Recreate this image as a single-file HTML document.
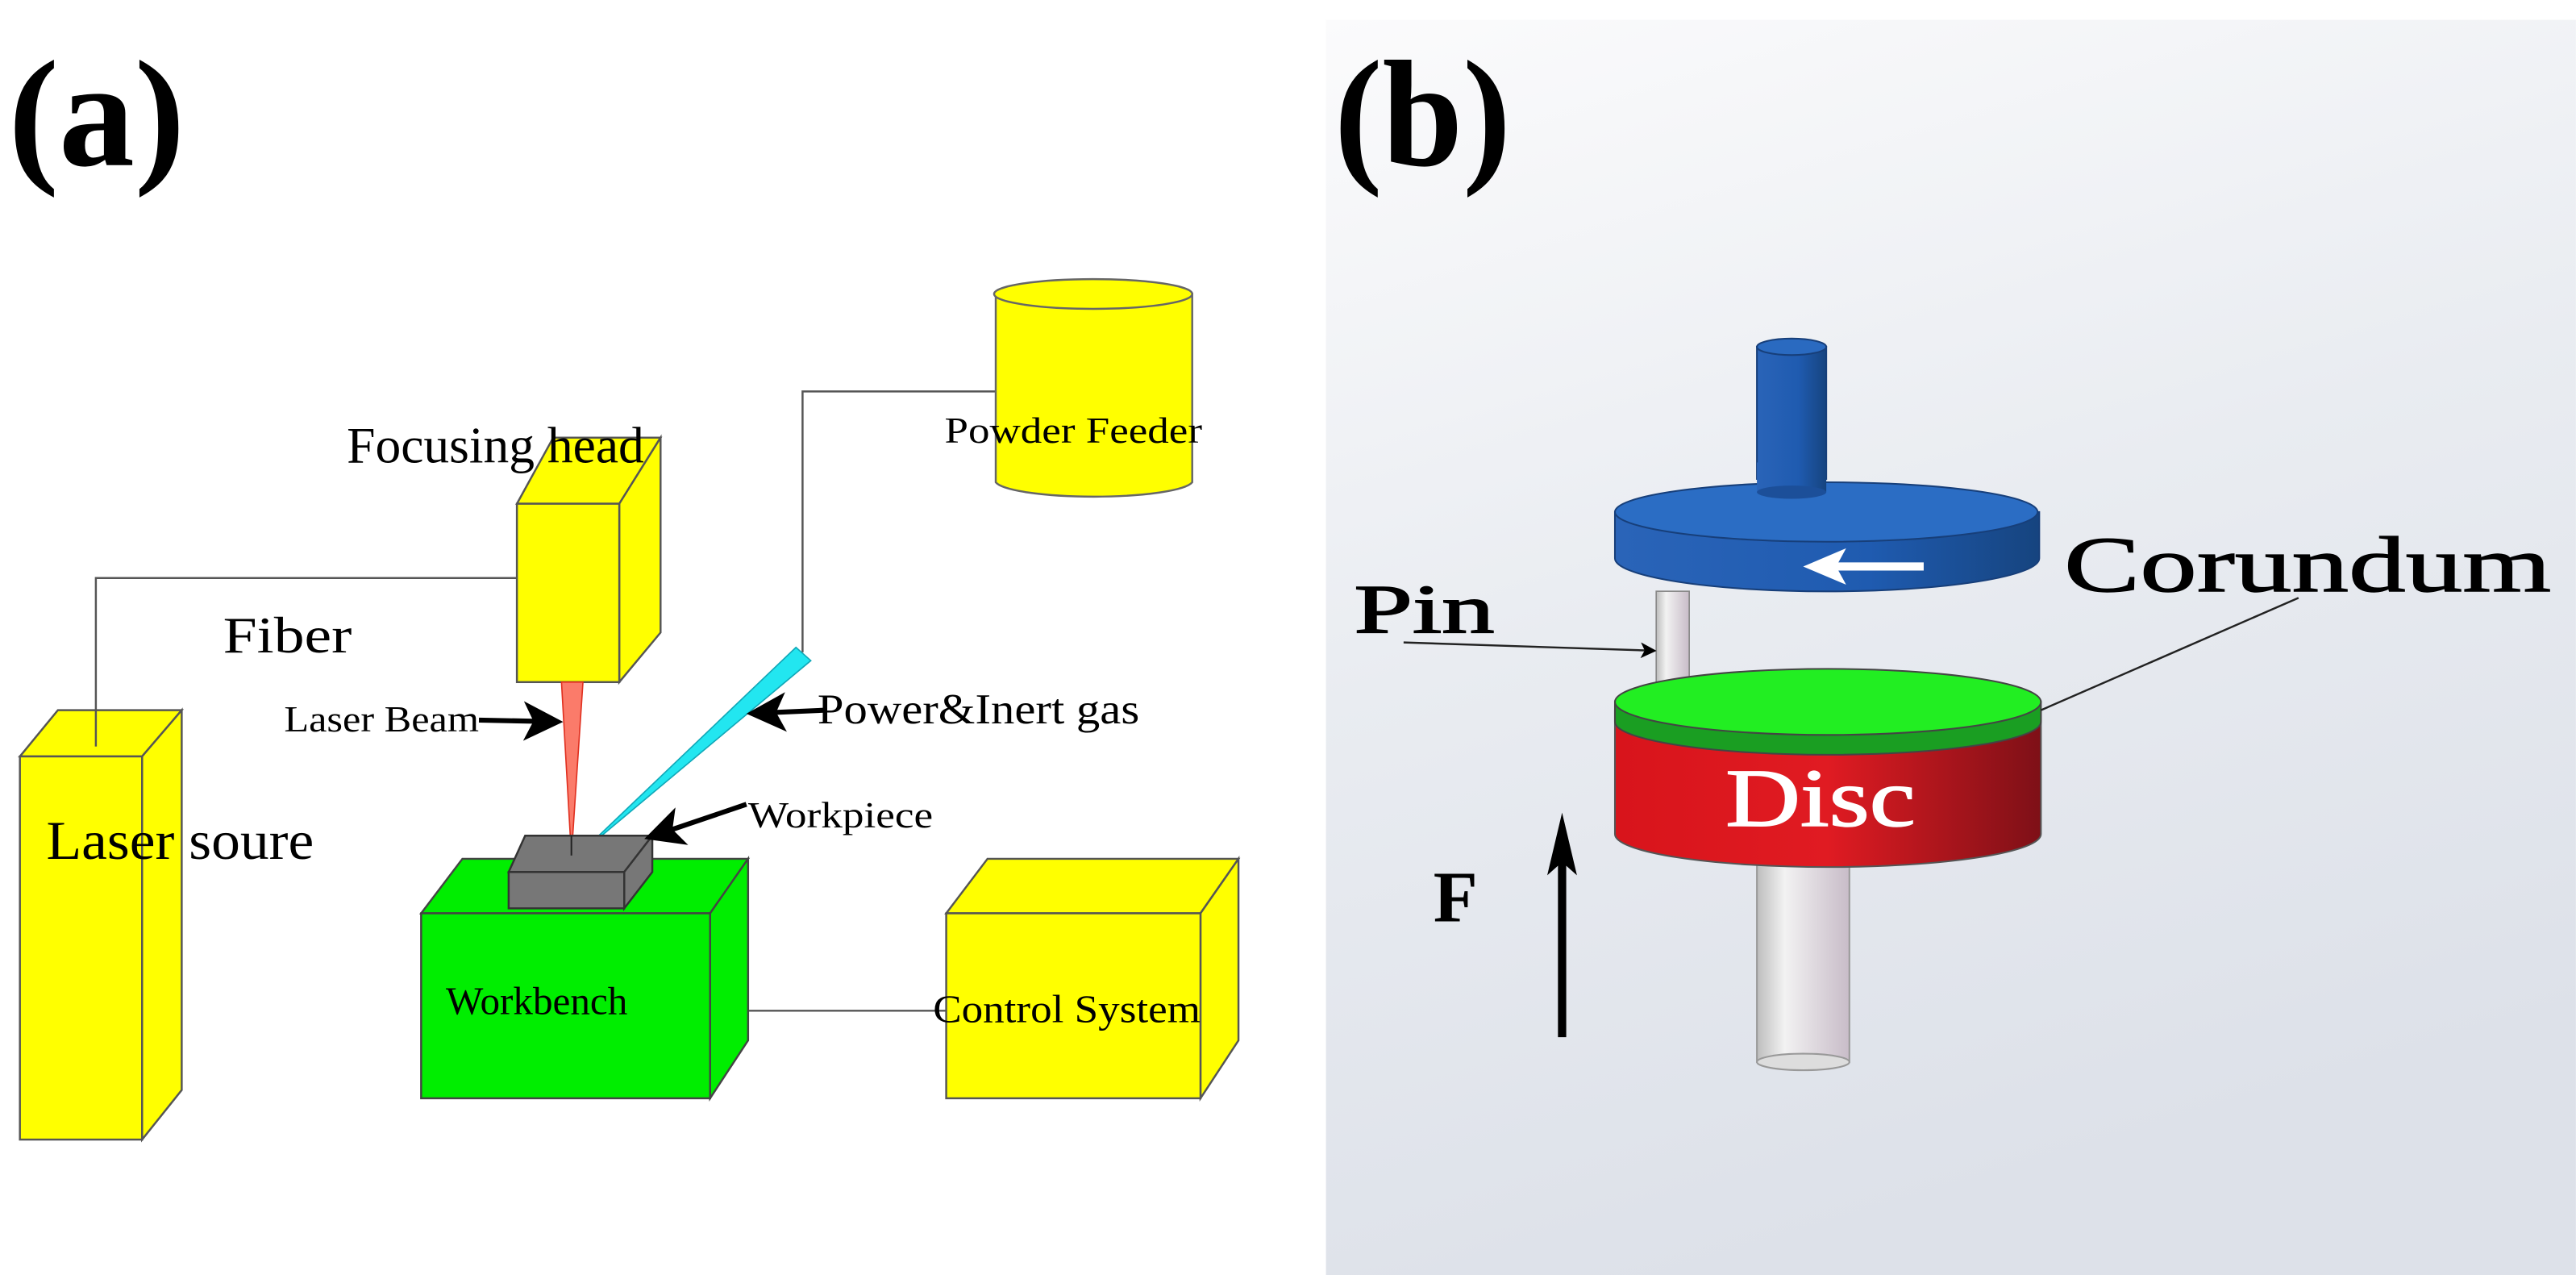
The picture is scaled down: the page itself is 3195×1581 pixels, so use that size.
<!DOCTYPE html>
<html><head><meta charset="utf-8"><style>
html,body{margin:0;padding:0;background:#fff;}
svg{display:block;}
text{font-family:"Liberation Serif",serif;}
</style></head><body>
<svg width="3195" height="1581" viewBox="0 0 1560 772" xmlns="http://www.w3.org/2000/svg">
<defs>
<linearGradient id="bg" x1="0" y1="0" x2="0.3" y2="1">
<stop offset="0" stop-color="#fbfbfc"/><stop offset="0.5" stop-color="#e9ecf1"/><stop offset="1" stop-color="#dde1e9"/></linearGradient>
<linearGradient id="red" x1="0" x2="1"><stop offset="0" stop-color="#d8141b"/><stop offset="0.5" stop-color="#e01b22"/><stop offset="1" stop-color="#7e1017"/></linearGradient>
<linearGradient id="blue" x1="0" x2="1"><stop offset="0" stop-color="#2a64b8"/><stop offset="0.6" stop-color="#1f5bb0"/><stop offset="1" stop-color="#16447f"/></linearGradient>
<linearGradient id="shaft" x1="0" x2="1"><stop offset="0" stop-color="#bdbdbd"/><stop offset="0.3" stop-color="#f2f2f2"/><stop offset="1" stop-color="#c8bcc8"/></linearGradient>
<marker id="ah" markerWidth="8" markerHeight="8" refX="7" refY="4" orient="auto"><path d="M0,0 L8,4 L0,8 L2,4z" fill="#000"/></marker>
</defs>
<rect width="1560" height="772" fill="#fff"/>
<text x="5" y="100" font-size="92" font-weight="bold" textLength="107" lengthAdjust="spacingAndGlyphs">(a)</text>
<g stroke="#555" stroke-width="1.2" fill="none">
<polyline points="603,237 486,237 486,395"/>
<polyline points="313,350 58,350 58,452"/>
<line x1="453" y1="612" x2="573" y2="612"/>
</g>
<g stroke="#666" stroke-width="1.2">
<path d="M603,178 L603,292 A60,10 0 0 0 722,292 L722,178z" fill="#ffff00"/>
<ellipse cx="662" cy="178" rx="60" ry="9" fill="#ffff00"/>
</g>
<text x="572" y="268" font-size="22" textLength="156" lengthAdjust="spacingAndGlyphs">Powder Feeder</text>
<g stroke="#555" stroke-width="1.2" fill="#ffff00">
<polygon points="313,305 335,265 400,265 375,305"/>
<polygon points="375,305 400,265 400,383 375,413"/>
<rect x="313" y="305" width="62" height="108"/>
</g>
<text x="210" y="280" font-size="31" textLength="180" lengthAdjust="spacingAndGlyphs">Focusing head</text>
<text x="135" y="395" font-size="31" textLength="78" lengthAdjust="spacingAndGlyphs">Fiber</text>
<g stroke="#555" stroke-width="1.2" fill="#ffff00">
<polygon points="12,458 35,430 110,430 86,458"/>
<polygon points="86,458 110,430 110,660 86,690"/>
<rect x="12" y="458" width="74" height="232"/>
</g>
<line x1="58" y1="430" x2="58" y2="452" stroke="#555" stroke-width="1.2"/>
<text x="28" y="520" font-size="33" textLength="162" lengthAdjust="spacingAndGlyphs">Laser soure</text>
<polygon points="340,413 353,413 346,518" fill="#fb7b6a" stroke="#e03020" stroke-width="0.8"/>
<polygon points="482,392 491,400 350,518" fill="#22e6f0" stroke="#11a8b8" stroke-width="0.8"/>
<g stroke="#444" stroke-width="1.2" fill="#00ee00">
<polygon points="255,553 280,520 453,520 430,553"/>
<polygon points="430,553 453,520 453,630 430,665"/>
<rect x="255" y="553" width="175" height="112"/>
</g>
<text x="270" y="614" font-size="24" textLength="110" lengthAdjust="spacingAndGlyphs">Workbench</text>
<g stroke="#333" stroke-width="1.2" fill="#777">
<polygon points="308,528 318,506 395,506 378,528"/>
<polygon points="378,528 395,506 395,528 378,550"/>
<rect x="308" y="528" width="70" height="22"/>
</g>
<line x1="346" y1="506" x2="346" y2="518" stroke="#222"/>
<g stroke="#555" stroke-width="1.2" fill="#ffff00">
<polygon points="573,553 598,520 750,520 727,553"/>
<polygon points="727,553 750,520 750,630 727,665"/>
<rect x="573" y="553" width="154" height="112"/>
</g>
<text x="565" y="619" font-size="24" textLength="162" lengthAdjust="spacingAndGlyphs">Control System</text>
<text x="172" y="443" font-size="22" textLength="118" lengthAdjust="spacingAndGlyphs">Laser Beam</text>
<line x1="290" y1="436" x2="338" y2="437" stroke="#000" stroke-width="3" marker-end="url(#ah)"/>
<text x="495" y="438" font-size="26" textLength="195" lengthAdjust="spacingAndGlyphs">Power&amp;Inert gas</text>
<line x1="500" y1="430" x2="455" y2="432" stroke="#000" stroke-width="3" marker-end="url(#ah)"/>
<text x="453" y="501" font-size="22" textLength="112" lengthAdjust="spacingAndGlyphs">Workpiece</text>
<line x1="452" y1="487" x2="393" y2="507" stroke="#000" stroke-width="3" marker-end="url(#ah)"/>
<rect x="803" y="12" width="757" height="760" fill="url(#bg)"/>
<text x="808" y="100" font-size="92" font-weight="bold" textLength="107" lengthAdjust="spacingAndGlyphs">(b)</text>
<rect x="1064" y="210" width="42" height="80" fill="url(#blue)" stroke="#173f7a"/>
<ellipse cx="1085" cy="210" rx="21" ry="5" fill="#2a6ac0" stroke="#173f7a"/>
<path d="M978,310 L978,338 A128,20 0 0 0 1235,338 L1235,310z" fill="url(#blue)" stroke="#173f7a"/>
<ellipse cx="1106" cy="310" rx="128" ry="18" fill="#2b6dc4" stroke="#173f7a"/>
<rect x="1064" y="280" width="42" height="18" fill="url(#blue)"/>
<ellipse cx="1085" cy="298" rx="21" ry="4" fill="#1c4f99"/>
<line x1="1165" y1="343" x2="1110" y2="343" stroke="#fff" stroke-width="5"/>
<polygon points="1092,343 1118,332 1112,343 1118,354" fill="#fff"/>
<rect x="1003" y="358" width="20" height="68" fill="url(#shaft)" stroke="#888" stroke-width="0.8"/>
<text x="820" y="383" font-size="42" textLength="85" lengthAdjust="spacingAndGlyphs" stroke="#000" stroke-width="0.8">Pin</text>
<line x1="850" y1="389" x2="1002" y2="394" stroke="#222" stroke-width="1.2" marker-end="url(#ah)"/>
<rect x="1064" y="510" width="56" height="133" fill="url(#shaft)" stroke="#999"/>
<ellipse cx="1092" cy="643" rx="28" ry="5" fill="#ddd" stroke="#999"/>
<path d="M978,430 L978,505 A129,20 0 0 0 1236,505 L1236,430z" fill="url(#red)" stroke="#555"/>
<path d="M978,425 L978,437 A129,20 0 0 0 1236,437 L1236,425z" fill="#1a9e22" stroke="#444"/>
<ellipse cx="1107" cy="425" rx="129" ry="20" fill="#22ee22" stroke="#444"/>
<text x="1045" y="500" font-size="50" fill="#fff" textLength="115" lengthAdjust="spacingAndGlyphs" stroke="#fff" stroke-width="0.8">Disc</text>
<text x="1250" y="358" font-size="48" textLength="295" lengthAdjust="spacingAndGlyphs" stroke="#000" stroke-width="0.6">Corundum</text>
<line x1="1392" y1="362" x2="1236" y2="430" stroke="#222" stroke-width="1.2"/>
<text x="868" y="558" font-size="44" font-weight="bold">F</text>
<line x1="946" y1="628" x2="946" y2="520" stroke="#000" stroke-width="5"/>
<polygon points="946,492 937,530 946,522 955,530" fill="#000"/>
</svg>
</body></html>
